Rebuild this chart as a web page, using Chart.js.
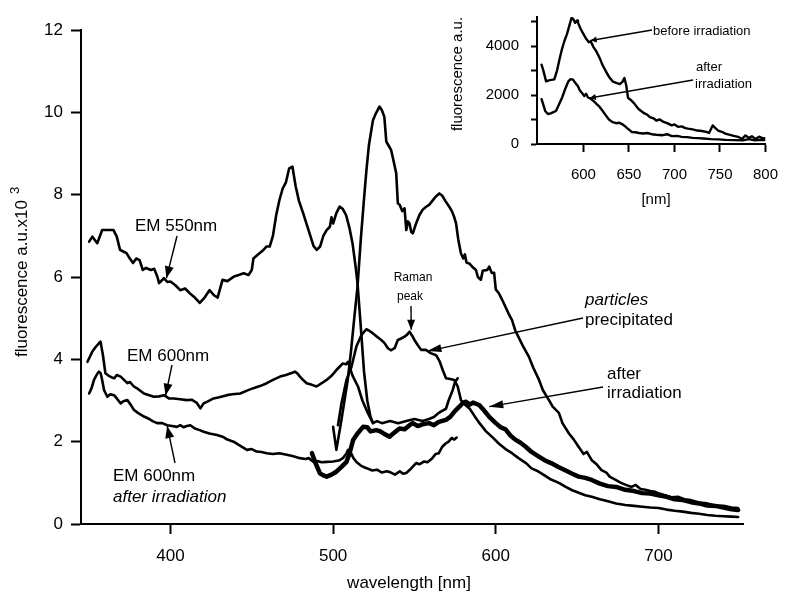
<!DOCTYPE html>
<html>
<head>
<meta charset="utf-8">
<script src="https://cdn.jsdelivr.net/npm/chart.js@4.4.1/dist/chart.umd.min.js"></script>
<style>
  body { margin: 0; background: #fff; }
  #wrap { position: relative; width: 792px; height: 592px; overflow: hidden; }
  #main { position: absolute; left: 0; top: 0; }
  #inset { position: absolute; left: 440px; top: -4px; }
</style>
</head>
<body>
<div id="wrap">
  <canvas id="main" width="792" height="592"></canvas>
  <canvas id="inset" width="352" height="219"></canvas>
</div>
<script>
// excitation spectrum, emission at 550 nm
const em550Nm = [350, 352, 355, 358, 362, 365, 367, 369, 371, 373, 375, 377, 379, 381, 383, 385, 388, 390, 392, 393, 396, 398, 400, 403, 406, 409, 412, 415, 418, 421, 424, 427, 429, 432, 435, 439, 442, 445, 448, 450, 451, 454, 457, 459, 461, 463, 465, 467, 469, 471, 473, 475, 477, 479, 482, 484, 486, 488, 490, 492, 494, 496, 498, 499, 500, 502, 504, 506, 508, 510, 512, 514, 515, 517, 519, 521, 523, 524.5];
const em550Val = [6.86, 6.98, 6.82, 7.14, 7.14, 7.14, 6.98, 6.66, 6.62, 6.58, 6.45, 6.34, 6.45, 6.41, 6.17, 6.22, 6.17, 6.2, 6.0, 5.85, 5.97, 5.88, 5.89, 5.8, 5.68, 5.72, 5.6, 5.5, 5.37, 5.5, 5.68, 5.55, 5.5, 5.93, 5.9, 6.01, 6.05, 6.09, 6.05, 6.17, 6.45, 6.55, 6.65, 6.74, 6.74, 7.0, 7.5, 7.87, 8.15, 8.3, 8.64, 8.68, 8.2, 7.85, 7.5, 7.25, 7.0, 6.75, 6.66, 6.74, 7.0, 7.14, 7.22, 7.45, 7.3, 7.55, 7.71, 7.65, 7.5, 7.2, 6.8, 6.2, 5.85, 4.8, 3.7, 3.0, 2.6, 2.45];

// excitation spectrum, emission at 600 nm
const em600Nm = [349, 352, 354, 356, 357, 358.5, 360, 362, 364, 365.5, 367, 369.4, 371, 373.5, 375, 377.5, 380, 383.7, 386, 389.8, 393, 396, 399, 402, 406, 410, 413, 416, 418.4, 420.4, 423, 426.5, 430, 434.7, 438, 442.9, 447, 451, 455, 459.2, 463, 467.4, 471, 474, 476.5, 478, 479.6, 481.5, 483.7, 487, 489.8, 493, 496, 499, 502, 504, 506, 508, 509.2, 510.2, 512, 515.3, 518, 521.4, 524.5, 527, 530, 535, 540, 545, 550, 555, 559, 562, 565, 567, 569.4, 571, 573.5, 575, 576.6];
const em600Val = [3.94, 4.19, 4.3, 4.39, 4.43, 4.1, 3.66, 3.6, 3.56, 3.54, 3.62, 3.58, 3.52, 3.42, 3.45, 3.34, 3.28, 3.17, 3.14, 3.09, 3.1, 3.13, 3.05, 3.05, 3.03, 3.01, 3.02, 2.95, 2.81, 2.93, 2.98, 3.05, 3.08, 3.13, 3.15, 3.17, 3.24, 3.3, 3.35, 3.42, 3.5, 3.58, 3.62, 3.66, 3.7, 3.66, 3.58, 3.5, 3.42, 3.38, 3.34, 3.42, 3.5, 3.6, 3.74, 3.82, 3.9, 3.88, 3.94, 3.81, 3.6, 3.34, 3.0, 2.69, 2.45, 2.5, 2.45, 2.5, 2.45, 2.5, 2.55, 2.5, 2.55, 2.6, 2.7, 2.75, 2.8, 3.0, 3.25, 3.45, 3.54];

// excitation spectrum, emission at 600 nm, after irradiation
const em600IrrNm = [350, 351.5, 353, 355, 356.1, 357.1, 358, 359.2, 361.2, 363, 365.3, 367, 369.4, 371, 373.5, 375.5, 377.6, 380, 383.7, 387, 389, 391.8, 395, 398, 401, 404, 406, 408, 410, 412.2, 415, 418, 420.4, 424, 428.6, 432, 435, 438.8, 442, 445, 447, 450, 453, 456, 459.2, 463, 467, 471.5, 475, 479.6, 483, 485, 487.8, 490, 493, 496, 500, 504.1, 506, 508, 509.2, 511, 512.5, 514.5, 517, 519, 521, 524, 527, 530, 533, 535, 538, 541, 543, 545, 548, 551, 553, 556, 558, 561, 563, 565, 567, 569, 571, 573, 574.5, 576];
const em600IrrVal = [3.17, 3.3, 3.5, 3.65, 3.7, 3.66, 3.5, 3.25, 3.09, 3.15, 3.13, 3.05, 2.93, 2.98, 3.01, 2.9, 2.77, 2.7, 2.61, 2.55, 2.5, 2.45, 2.45, 2.4, 2.38, 2.36, 2.4, 2.35, 2.38, 2.4, 2.32, 2.28, 2.24, 2.2, 2.16, 2.12, 2.05, 2.0, 1.92, 1.85, 1.8, 1.82, 1.76, 1.75, 1.72, 1.7, 1.72, 1.68, 1.65, 1.6, 1.58, 1.6, 1.51, 1.53, 1.5, 1.51, 1.52, 1.55, 1.6, 1.7, 1.8, 1.72, 1.6, 1.5, 1.42, 1.38, 1.35, 1.3, 1.32, 1.25, 1.28, 1.26, 1.2, 1.28, 1.22, 1.24, 1.35, 1.48, 1.45, 1.52, 1.5, 1.6, 1.7, 1.72, 1.87, 1.95, 2.0, 2.09, 2.05, 2.1];

// emission spectrum, strongest trace
const emisNm = [500, 502, 505, 507, 509, 511, 513, 515, 517, 519, 520.5, 522, 524.5, 526, 528.5, 530, 531.5, 532.7, 534, 535.7, 537, 538.8, 539.8, 541, 542.5, 543.9, 545, 546, 547, 548, 549, 551, 553, 555, 557, 559, 561, 563, 565.3, 567, 569, 571.5, 573, 574.5, 575.6, 577, 578.6, 580, 581, 582, 583.7, 585.5, 587.8, 589, 590.8, 592, 594.7, 596, 597.5, 599, 600, 602, 604, 606, 608, 610, 612, 614, 617, 620.4, 623, 626.6, 629, 632.7, 635, 638.8, 641, 645, 648, 651, 654, 656, 659, 662, 665, 668, 670, 673.7, 677, 680, 683.5, 686, 689, 692, 695, 698, 700, 704, 708, 712, 716, 720, 725, 730, 735, 740, 745, 749];
const emisVal = [2.36, 1.8, 2.5, 3.0, 3.5, 4.2, 5.0, 5.76, 6.9, 7.9, 8.6, 9.2, 9.81, 9.95, 10.14, 10.05, 9.89, 9.29, 9.2, 9.08, 8.85, 8.52, 7.79, 7.75, 7.6, 7.67, 7.14, 7.35, 7.3, 7.1, 7.06, 7.3, 7.5, 7.63, 7.7, 7.75, 7.85, 7.95, 8.03, 7.98, 7.85, 7.7, 7.6, 7.45, 7.3, 6.9, 6.57, 6.45, 6.55, 6.35, 6.33, 6.25, 6.17, 6.0, 5.93, 6.15, 6.17, 6.25, 6.1, 6.1, 5.7, 5.6, 5.44, 5.27, 5.1, 4.95, 4.7, 4.54, 4.3, 4.06, 3.8, 3.5, 3.25, 3.01, 2.85, 2.7, 2.45, 2.2, 2.05, 1.87, 1.7, 1.75, 1.55, 1.45, 1.31, 1.25, 1.15, 1.07, 1.0, 0.95, 0.9, 0.95, 0.85, 0.83, 0.8, 0.78, 0.75, 0.7, 0.65, 0.66, 0.6, 0.58, 0.52, 0.5, 0.45, 0.44, 0.4, 0.39];

// emission spectrum, particles precipitated
const partNm = [503, 505, 508.2, 511.3, 514.3, 517.4, 520.4, 522, 524.5, 527, 529.6, 531.5, 533.7, 535.5, 537.8, 539.8, 541.5, 543.9, 545.5, 547, 548.5, 550, 552, 554.1, 557, 560, 563.3, 565.5, 567.4, 569.4, 572, 574.5, 576.6, 578.6, 581, 584, 587, 590, 594, 597.9, 602, 606, 610, 614, 618.6, 622, 626, 630, 634, 638.8, 643, 647, 651, 655, 659, 664, 669, 674, 679.6, 685, 690, 695, 700, 705, 710, 715, 720, 725, 730, 735, 740, 745, 749];
const partVal = [2.4, 2.9, 3.5, 3.82, 4.31, 4.59, 4.73, 4.7, 4.63, 4.55, 4.47, 4.4, 4.27, 4.22, 4.27, 4.47, 4.5, 4.55, 4.6, 4.67, 4.58, 4.47, 4.35, 4.23, 4.23, 4.15, 4.1, 3.95, 3.74, 3.54, 3.52, 3.5, 3.34, 3.01, 2.9, 2.8, 2.62, 2.45, 2.25, 2.11, 1.95, 1.82, 1.72, 1.6, 1.48, 1.35, 1.28, 1.18, 1.08, 1.0, 0.9, 0.82, 0.76, 0.7, 0.66, 0.6, 0.55, 0.5, 0.46, 0.44, 0.42, 0.4, 0.39, 0.35, 0.32, 0.3, 0.27, 0.25, 0.22, 0.2, 0.19, 0.18, 0.17];

// emission spectrum after irradiation
const irrNm = [487, 489, 491.9, 494, 496, 499, 502, 505, 508.2, 510, 512.3, 515, 518.4, 521, 523, 526.6, 529, 531, 534.7, 537, 540.8, 544, 547, 549, 552, 555, 559, 562, 565, 569.4, 572, 575, 577.6, 580, 581.7, 584, 586, 589.8, 593, 596, 600, 603, 606, 609, 612, 615, 618.6, 622, 626, 630, 634, 638.8, 643, 647, 651, 655, 659, 664, 669, 674, 679.6, 685, 690, 695, 700, 705, 710, 715, 720, 725, 730, 735, 740, 745, 749];
const irrVal = [1.72, 1.5, 1.23, 1.18, 1.15, 1.2, 1.27, 1.38, 1.51, 1.7, 2.04, 2.2, 2.36, 2.35, 2.25, 2.28, 2.25, 2.2, 2.12, 2.2, 2.32, 2.3, 2.4, 2.45, 2.38, 2.42, 2.45, 2.4, 2.48, 2.53, 2.6, 2.75, 2.85, 2.95, 2.97, 2.9, 2.95, 2.89, 2.75, 2.6, 2.45, 2.35, 2.3, 2.15, 2.05, 1.98, 1.87, 1.75, 1.65, 1.55, 1.48, 1.38, 1.3, 1.22, 1.15, 1.12, 1.07, 0.98, 0.92, 0.9, 0.83, 0.8, 0.75, 0.74, 0.7, 0.66, 0.6, 0.58, 0.53, 0.5, 0.45, 0.44, 0.4, 0.36, 0.34];

const mainXTicks = [400, 500, 600, 700];
const mainYTicks = [0, 2, 4, 6, 8, 10, 12];

// inset: emission before / after irradiation
const beforeNm = [554, 556, 559, 562, 565, 568, 571, 574, 576.5, 579, 582, 585, 587, 589, 591, 593, 594, 597, 601, 603, 606, 608, 611, 614, 618, 621, 625, 628, 632, 636, 640, 643, 645, 647, 649, 652, 656, 660, 663, 667, 670, 673, 677, 680, 684, 688, 692, 697, 700, 704, 708, 712, 715, 720, 725, 730, 735, 738, 740, 742, 745, 748, 752, 756, 760, 765, 770, 774, 778, 782, 785, 789, 793, 797, 799];
const beforeVal = [3240, 3000, 2560, 2600, 2620, 2640, 3000, 3500, 3890, 4200, 4500, 4900, 5160, 5100, 4950, 5050, 4960, 4700, 4430, 4300, 4160, 4200, 3960, 3800, 3500, 3230, 2950, 2750, 2560, 2500, 2450, 2550, 2700, 2400, 1890, 1800, 1650, 1450, 1360, 1250, 1200, 1100, 1050, 960, 1000, 900, 850, 760, 800, 700, 720, 650, 627, 600, 550, 530, 493, 450, 600, 760, 650, 550, 500, 427, 380, 330, 293, 200, 350, 250, 320, 200, 300, 230, 240];
const afterNm = [554, 556, 558, 561, 564, 567, 570, 573, 576.5, 580, 583.4, 586, 588.6, 591, 594, 596, 598, 601, 603, 605, 608, 611, 614, 617, 621, 624, 628, 632, 636, 639, 642, 645, 648, 653, 657, 661, 666, 670, 675, 680, 687, 692, 697, 703, 708, 714, 720, 726, 732, 740, 748, 756, 766, 775, 782, 788, 794, 799];
const afterVal = [1830, 1600, 1350, 1227, 1250, 1300, 1360, 1600, 1890, 2250, 2560, 2650, 2630, 2500, 2360, 2200, 2100, 1960, 2050, 1900, 1850, 1760, 1650, 1550, 1360, 1200, 1000, 893, 850, 870, 827, 750, 650, 493, 480, 450, 427, 450, 400, 380, 360, 400, 320, 330, 293, 280, 250, 240, 227, 200, 190, 170, 160, 150, 200, 150, 170, 160];

const insetXTicks = [600, 650, 700, 750, 800];
const insetYTicks = [0, 1000, 2000, 3000, 4000, 5000];

const FONT = '"Liberation Sans", Arial, Helvetica, sans-serif';
Chart.defaults.font.family = FONT;
Chart.defaults.color = '#000';

function toPoints(xs, ys) {
  return xs.map((x, i) => ({ x, y: ys[i] }));
}

function trace(xs, ys, width) {
  return {
    data: toPoints(xs, ys),
    showLine: true,
    borderColor: '#000',
    borderWidth: width,
    pointRadius: 0,
    tension: 0,
    borderJoinStyle: 'round',
    borderCapStyle: 'round'
  };
}

function axis(min, max, ticks, size, tickLen, pad, fit) {
  return {
    type: 'linear',
    min,
    max,
    afterBuildTicks: scale => { scale.ticks = ticks.map(v => ({ value: v })); },
    afterFit: fit,
    grid: {
      display: true,
      drawOnChartArea: false,
      drawTicks: true,
      tickLength: tickLen,
      tickWidth: 2,
      tickColor: '#000'
    },
    border: { display: true, color: '#000', width: 2 },
    ticks: { color: '#000', font: { size }, padding: pad, maxRotation: 0, autoSkip: false }
  };
}

function arrow(ctx, x1, y1, x2, y2, len, half) {
  ctx.beginPath();
  ctx.moveTo(x1, y1);
  ctx.lineTo(x2, y2);
  ctx.stroke();
  if (!len) return;
  const a = Math.atan2(y2 - y1, x2 - x1);
  const bx = x2 - len * Math.cos(a);
  const by = y2 - len * Math.sin(a);
  ctx.beginPath();
  ctx.moveTo(x2, y2);
  ctx.lineTo(bx + half * Math.sin(a), by - half * Math.cos(a));
  ctx.lineTo(bx - half * Math.sin(a), by + half * Math.cos(a));
  ctx.closePath();
  ctx.fill();
}

const mainNotes = {
  id: 'mainNotes',
  afterDraw(chart) {
    const { ctx } = chart;
    const x = chart.scales.x;
    const y = chart.scales.y;
    const px = (nm, v) => [x.getPixelForValue(nm), y.getPixelForValue(v)];
    ctx.save();
    ctx.fillStyle = '#000';
    ctx.strokeStyle = '#000';
    ctx.lineWidth = 1.4;
    ctx.textBaseline = 'middle';

    // axis titles
    ctx.font = `17px ${FONT}`;
    ctx.textAlign = 'center';
    ctx.fillText('wavelength [nm]', 409, 583);
    ctx.save();
    ctx.translate(22, 200);
    ctx.rotate(-Math.PI / 2);
    ctx.textAlign = 'right';
    ctx.fillText('fluorescence a.u.x10', 0, 0);
    ctx.font = `13px ${FONT}`;
    ctx.textAlign = 'left';
    ctx.fillText('3', 6, -7);
    ctx.restore();

    // curve labels
    ctx.font = `17px ${FONT}`;
    ctx.textAlign = 'left';
    ctx.fillText('EM 550nm', 135, 226);
    ctx.fillText('EM 600nm', 127, 356);
    ctx.fillText('EM 600nm', 113, 476);
    ctx.fillText('after', 607, 374);
    ctx.fillText('irradiation', 607, 393);
    ctx.fillText('precipitated', 585, 320);
    ctx.font = `italic 17px ${FONT}`;
    ctx.fillText('after irradiation', 113, 497);
    ctx.fillText('particles', 585, 300);
    ctx.font = `12px ${FONT}`;
    ctx.textAlign = 'center';
    ctx.fillText('Raman', 413, 278);
    ctx.fillText('peak', 410, 297);

    arrow(ctx, 177, 236, ...px(397.5, 5.97), 12, 4.5);
    arrow(ctx, 172, 365, ...px(397, 3.12), 12, 4.5);
    arrow(ctx, 175, 463, ...px(398, 2.38), 12, 4.5);
    arrow(ctx, 411, 306, ...px(548, 4.72), 10, 4);
    arrow(ctx, 583, 318, ...px(558, 4.2), 14, 4);
    arrow(ctx, 603, 387, ...px(596, 2.85), 14, 4);
    ctx.restore();
  }
};

// inset canvas sits 4px above the page top
const insetNotes = {
  id: 'insetNotes',
  afterDraw(chart) {
    const { ctx } = chart;
    const x = chart.scales.x;
    const y = chart.scales.y;
    const px = (nm, v) => [x.getPixelForValue(nm), y.getPixelForValue(v)];
    ctx.save();
    ctx.fillStyle = '#000';
    ctx.strokeStyle = '#000';
    ctx.lineWidth = 1.3;
    ctx.textBaseline = 'middle';

    ctx.font = `15px ${FONT}`;
    ctx.textAlign = 'center';
    ctx.fillText('[nm]', 216, 204);
    ctx.save();
    ctx.translate(18, 78);
    ctx.rotate(-Math.PI / 2);
    ctx.fillText('fluorescence a.u.', 0, 0);
    ctx.restore();

    ctx.font = `13px ${FONT}`;
    ctx.textAlign = 'left';
    ctx.fillText('before irradiation', 213, 35);
    ctx.fillText('after', 256, 71);
    ctx.fillText('irradiation', 255, 88);
    arrow(ctx, 212, 34, ...px(608, 4230), 6, 3);
    arrow(ctx, 253, 84, ...px(607, 1880), 6, 3);
    ctx.restore();
  }
};

new Chart(document.getElementById('main'), {
  type: 'scatter',
  data: {
    datasets: [
      trace(em550Nm, em550Val, 2.6),
      trace(em600Nm, em600Val, 2.6),
      trace(em600IrrNm, em600IrrVal, 2.6),
      trace(emisNm, emisVal, 2.6),
      trace(partNm, partVal, 2.6),
      trace(irrNm, irrVal, 4.5)
    ]
  },
  options: {
    responsive: false,
    animation: false,
    layout: { padding: { left: 0, right: 49, top: 30, bottom: 0 } },
    plugins: { legend: { display: false }, tooltip: { enabled: false } },
    scales: {
      x: axis(345, 752, mainXTicks, 17, 10, 12, s => { s.height = 68; }),
      y: axis(0, 12, mainYTicks, 17, 10, 8, s => { s.width = 81; })
    }
  },
  plugins: [mainNotes]
});

const insetY = axis(0, 5190, insetYTicks, 15, 6, 12, s => { s.width = 97; });
insetY.ticks.callback = v => (v % 2000 === 0 ? v : '');

new Chart(document.getElementById('inset'), {
  type: 'scatter',
  data: {
    datasets: [
      trace(beforeNm, beforeVal, 2.4),
      trace(afterNm, afterVal, 2.4)
    ]
  },
  options: {
    responsive: false,
    animation: false,
    layout: { padding: { left: 0, right: 13, top: 13, bottom: 0 } },
    plugins: { legend: { display: false }, tooltip: { enabled: false } },
    scales: {
      x: axis(549, 800, insetXTicks, 15, 8, 14, s => { s.height = 71; }),
      y: insetY
    }
  },
  plugins: [insetNotes]
});
</script>
</body>
</html>
